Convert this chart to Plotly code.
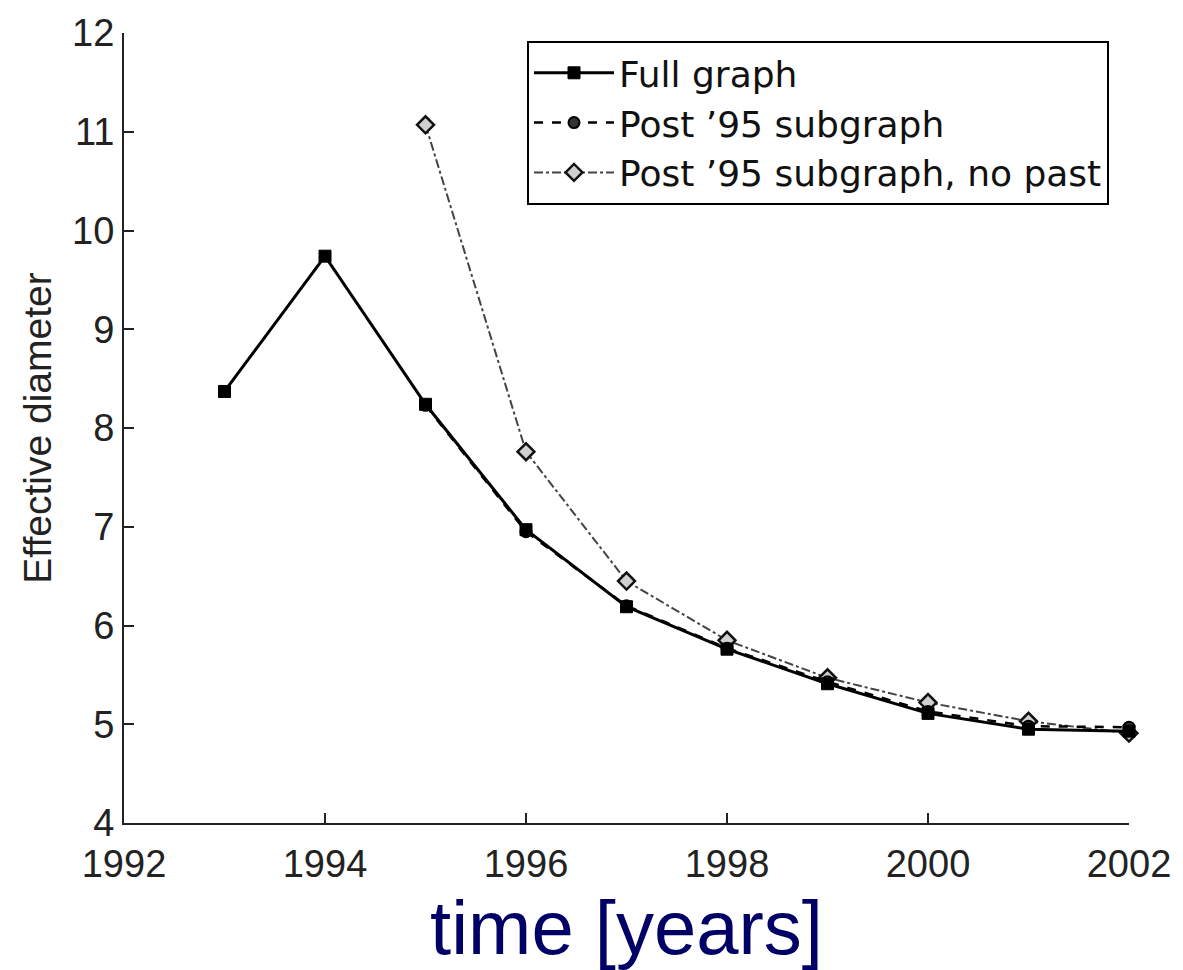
import plotly.graph_objects as go

years_full = [1993, 1994, 1995, 1996, 1997, 1998, 1999, 2000, 2001, 2002]
full_graph = [8.37, 9.74, 8.24, 6.97, 6.19, 5.76, 5.41, 5.11, 4.95, 4.93]

years_post = [1995, 1996, 1997, 1998, 1999, 2000, 2001, 2002]
post95 = [8.23, 6.95, 6.20, 5.77, 5.43, 5.13, 4.98, 4.97]
post95_nopast = [11.07, 7.76, 6.45, 5.85, 5.47, 5.22, 5.03, 4.91]

x_ticks = [1992, 1994, 1996, 1998, 2000, 2002]
y_ticks = [4, 5, 6, 7, 8, 9, 10, 11, 12]

fig = go.Figure()
fig.add_trace(go.Scatter(
    x=years_post, y=post95_nopast, name="Post \u201995 subgraph, no past",
    mode="lines+markers", cliponaxis=False,
    line=dict(color="#444444", width=2, dash="dashdot"),
    marker=dict(symbol="diamond", size=13, color="#d0d0d0",
                line=dict(color="#111111", width=2.5)),
))
fig.add_trace(go.Scatter(
    x=years_post, y=post95, name="Post \u201995 subgraph",
    mode="lines+markers", cliponaxis=False,
    line=dict(color="black", width=2.5, dash="dash"),
    marker=dict(symbol="circle", size=11, color="#333333",
                line=dict(color="black", width=2)),
))
fig.add_trace(go.Scatter(
    x=years_full, y=full_graph, name="Full graph",
    mode="lines+markers", cliponaxis=False,
    line=dict(color="black", width=3),
    marker=dict(symbol="square", size=12, color="black",
                line=dict(color="black", width=1)),
))

fig.update_layout(
    width=1183, height=970,
    margin=dict(l=124, r=49, t=25, b=147),
    paper_bgcolor="white", plot_bgcolor="white",
    font=dict(family="Arial", color="#222222"),
    showlegend=True,
    legend=dict(
        x=0.401, y=0.99, xanchor="left", yanchor="top",
        traceorder="reversed",
        bordercolor="black", borderwidth=2, bgcolor="white",
        font=dict(size=36, color="#111111", family="DejaVu Sans"),
        itemwidth=80, tracegroupgap=0,
    ),
    xaxis=dict(
        range=[1992, 2002], tickvals=x_ticks, ticktext=[str(v) for v in x_ticks],
        ticks="inside", ticklen=10, tickwidth=1.5, tickcolor="#222222",
        showline=True, linecolor="#222222", linewidth=2,
        showgrid=False, zeroline=False, ticklabelstandoff=6,
        tickfont=dict(size=38, color="#222222"),
        title=dict(text="time [years]", font=dict(size=76, color="#000066"), standoff=20),
    ),
    yaxis=dict(
        range=[4, 12], tickvals=y_ticks,
        ticks="inside", ticklen=10, tickwidth=1.5, tickcolor="#222222",
        showline=True, linecolor="#222222", linewidth=2,
        showgrid=False, zeroline=False,
        tickfont=dict(size=38, color="#222222"),
        title=dict(text="Effective diameter", font=dict(size=39, color="#222222"), standoff=8),
    ),
)

fig.write_html("out.html")
